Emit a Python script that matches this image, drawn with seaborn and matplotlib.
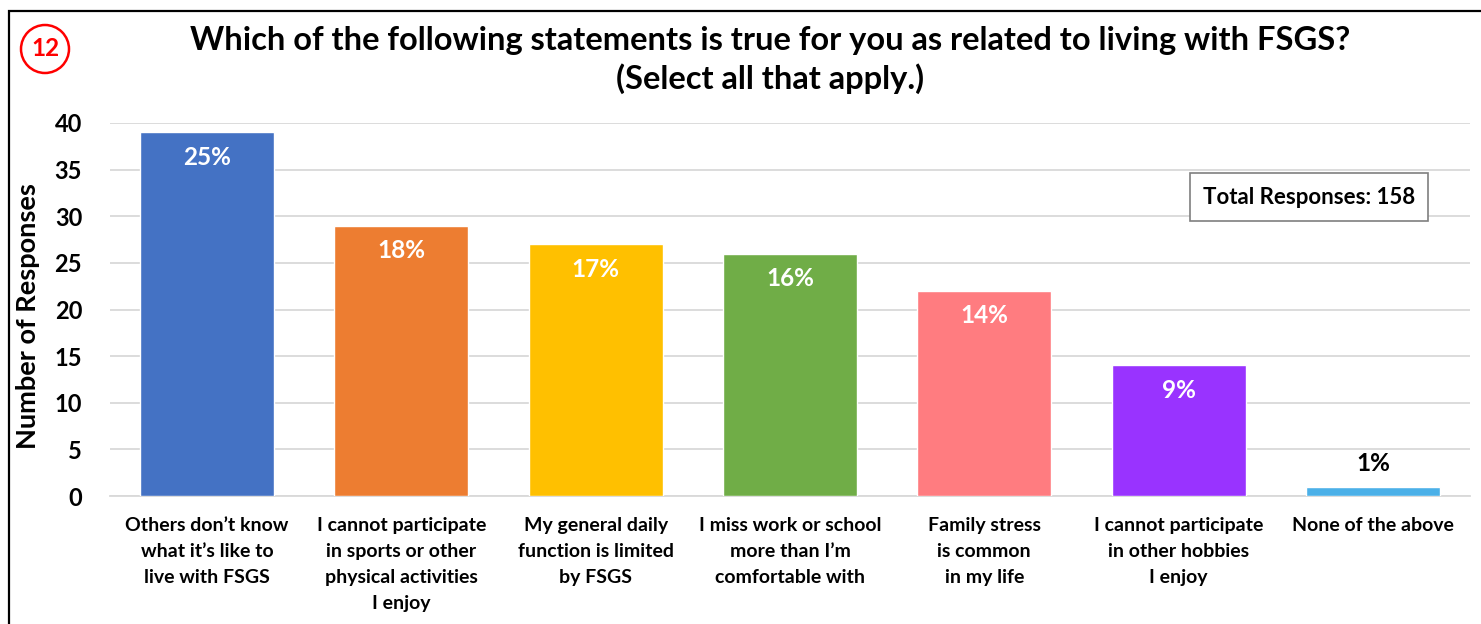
import matplotlib
matplotlib.use("Agg")
import matplotlib.pyplot as plt
import seaborn as sns
import pandas as pd
from matplotlib.patches import Rectangle, Ellipse

categories = [
    "Others don\u2019t know\nwhat it\u2019s like to\nlive with FSGS",
    "I cannot participate\nin sports or other\nphysical activities\nI enjoy",
    "My general daily\nfunction is limited\nby FSGS",
    "I miss work or school\nmore than I\u2019m\ncomfortable with",
    "Family stress\nis common\nin my life",
    "I cannot participate\nin other hobbies\nI enjoy",
    "None of the above",
]
responses = [39, 29, 27, 26, 22, 14, 1]
total_responses = 158
bar_colors = ["#4472C4", "#ED7D31", "#FFC000", "#70AD47", "#FF7C80", "#9933FF", "#4BB0E8"]
y_ticks = [0, 5, 10, 15, 20, 25, 30, 35, 40]

sns.set_theme(style="white")
plt.rcParams["font.family"] = ["Lato", "DejaVu Sans"]
plt.rcParams["font.weight"] = "bold"
plt.rcParams["text.color"] = "black"
plt.rcParams["axes.labelcolor"] = "black"
plt.rcParams["xtick.color"] = "black"
plt.rcParams["ytick.color"] = "black"

W, H = 1481, 624
df = pd.DataFrame({"category": categories, "responses": responses})

fig = plt.figure(figsize=(W / 100, H / 100), dpi=100)
ax = fig.add_axes([110 / W, 128 / H, 1360 / W, 373 / H])

sns.barplot(data=df, x="category", y="responses", hue="category",
            palette=bar_colors, width=0.69, legend=False, ax=ax,
            saturation=1, zorder=3)

ax.set_ylim(0, 40)
ax.set_xlim(-0.5, len(categories) - 0.5)
ax.set_yticks(y_ticks)
ax.yaxis.grid(True, color="#D9D9D9", linewidth=1.3, zorder=0)
ax.set_axisbelow(True)
for s in ["top", "right", "left"]:
    ax.spines[s].set_visible(False)
ax.spines["bottom"].set_color("#D9D9D9")
ax.spines["bottom"].set_linewidth(1.3)
ax.tick_params(axis="both", length=0)
ax.tick_params(axis="y", labelsize=17, pad=20)
ax.tick_params(axis="x", labelsize=14, pad=15)
for lbl in ax.get_yticklabels():
    lbl.set_fontweight("bold")
for lbl in ax.get_xticklabels():
    lbl.set_fontweight("bold")
    lbl.set_linespacing(1.65)
ax.set_xlabel("")
ax.set_ylabel("Number of Responses", fontsize=19.5, fontweight="bold",
              va="center", ha="center")
ax.yaxis.set_label_coords(-0.0603, 0.483)

# percentage labels
for i, v in enumerate(responses):
    pct = f"{round(v / total_responses * 100)}%"
    if v >= 5:
        ax.annotate(pct, (i, v), xytext=(0, -18), textcoords="offset points",
                    ha="center", va="center", color="white", fontsize=17.5,
                    fontweight="bold", zorder=5)
    else:
        ax.annotate(pct, (i, v), xytext=(0, 17), textcoords="offset points",
                    ha="center", va="center", color="black", fontsize=17.5,
                    fontweight="bold", zorder=5)

# total responses box
fig.text(1309 / W, 1 - 197 / H, f"Total Responses: {total_responses}",
         ha="center", va="center", fontsize=16, fontweight="bold",
         bbox=dict(boxstyle="square,pad=0.6", facecolor="white",
                   edgecolor="#7F7F7F", linewidth=1.2))

# title
fig.text(770 / W, 1 - 60 / H,
         "Which of the following statements is true for you as related to living with FSGS?\n(Select all that apply.)",
         ha="center", va="center", fontsize=23.5, fontweight="bold", linespacing=1.35)

# question number badge
fig.patches.append(Ellipse((45 / W, 1 - 49 / H), 48 / W, 48 / H,
                           transform=fig.transFigure, fill=False,
                           edgecolor="#FF0000", linewidth=1.8))
fig.text(45 / W, 1 - 49 / H, "12", ha="center", va="center",
         color="#FF0000", fontsize=17.5, fontweight="bold")

# outer frame
fig.patches.append(Rectangle((9 / W, -0.05), 1.1, 1 - 11 / H + 0.05,
                             transform=fig.transFigure, fill=False,
                             edgecolor="black", linewidth=1.6))

fig.savefig("out.png", dpi=100)
